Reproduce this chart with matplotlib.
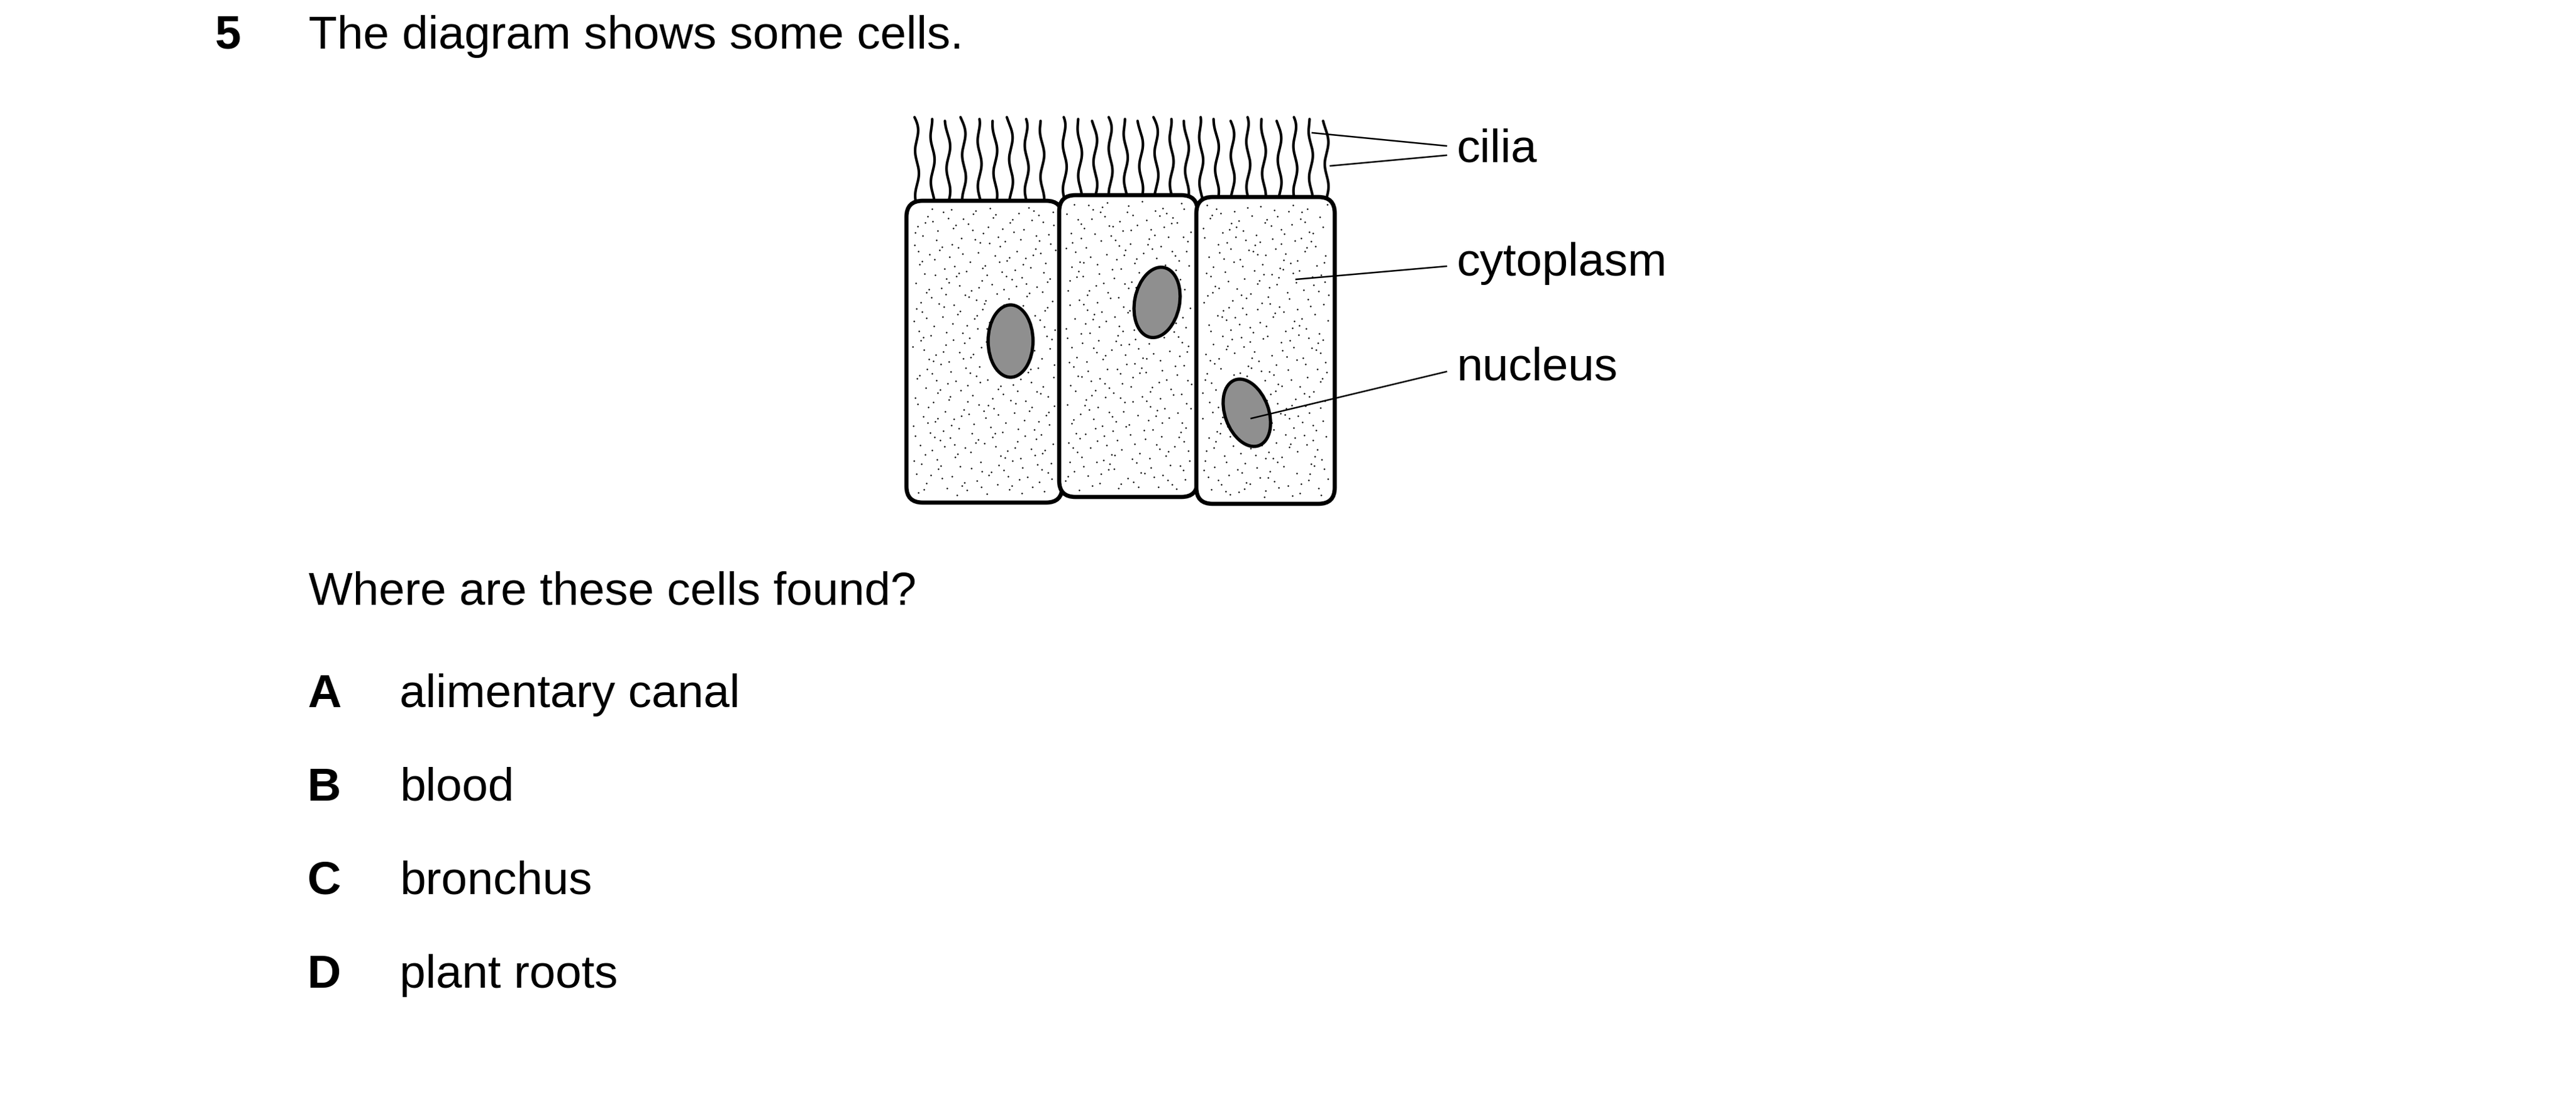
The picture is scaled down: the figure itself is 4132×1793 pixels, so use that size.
import numpy as np
import matplotlib
matplotlib.use("Agg")
import matplotlib.pyplot as plt
from matplotlib.patches import FancyBboxPatch, Ellipse

# ---- content ----
question_number = "5"
stem = "The diagram shows some cells."
question = "Where are these cells found?"
option_letters = ["A", "B", "C", "D"]
option_texts = ["alimentary canal", "blood", "bronchus", "plant roots"]
part_labels = ["cilia", "cytoplasm", "nucleus"]
cilia_per_cell = [9, 9, 9]

plt.rcParams["font.family"] = ["Liberation Sans", "DejaVu Sans"]

W, H = 4132, 1793
fig = plt.figure(figsize=(W / 100, H / 100), dpi=100)
ax = fig.add_axes([0, 0, 1, 1])
ax.set_xlim(0, W)
ax.set_ylim(H, 0)
ax.axis("off")

FS = 54  # points (~75 px)

# ---- text ----
ax.text(345, 78, question_number, fontsize=FS, fontweight="bold", va="baseline", ha="left")
ax.text(495, 78, stem, fontsize=FS, va="baseline", ha="left")
ax.text(495, 970, question, fontsize=FS, va="baseline", ha="left")
for i, (letter, txt) in enumerate(zip(option_letters, option_texts)):
    yb = 1134 + i * 150
    ax.text(493, yb, letter, fontsize=FS, fontweight="bold", va="baseline", ha="left")
    ax.text(641, yb, txt, fontsize=FS, va="baseline", ha="left")


def halton(idx, base):
    out = np.zeros(len(idx))
    f = np.ones(len(idx))
    i = idx.astype(float).copy()
    while np.any(i > 0):
        f = f / base
        out = out + f * np.mod(i, base)
        i = np.floor(i / base)
    return out


# ---- cells with stipple (deterministic texture) ----
cells = [(1454, 322, 1704, 806), (1699, 313, 1921, 797), (1919, 316, 2141, 808)]
for ci, (x0, y0, x1, y1) in enumerate(cells):
    p = FancyBboxPatch((x0, y0), x1 - x0, y1 - y0,
                       boxstyle="round,pad=0,rounding_size=26",
                       facecolor="white", edgecolor="black", linewidth=4.8, zorder=2)
    ax.add_patch(p)
    n = int((x1 - x0) * (y1 - y0) / 330)
    idx = np.arange(1, n + 1) + 500 * ci
    u = halton(idx, 2)
    v = halton(idx, 3)
    sx = x0 + 10 + u * (x1 - x0 - 20)
    sy = y0 + 10 + v * (y1 - y0 - 20)
    sc = ax.scatter(sx, sy, s=3.2, c="black", linewidths=0, zorder=2.5)
    sc.set_clip_path(p)

# ---- nuclei ----
nuclei = [(1621, 547, 72, 116, 0), (1856, 485, 72, 114, 11), (2000, 662, 70, 112, -20)]
for (cx, cy, w, h, ang) in nuclei:
    ax.add_patch(Ellipse((cx, cy), w, h, angle=ang, facecolor="#8f8f8f",
                         edgecolor="black", linewidth=3.8, zorder=3))

# ---- cilia ----
cilia_ranges = [(1471, 1672), (1708, 1904), (1927, 2128)]
top_y = 188
for ci, ((xa, xb), n) in enumerate(zip(cilia_ranges, cilia_per_cell)):
    base_y = cells[ci][1] + 4
    xs = np.linspace(xa, xb, n)
    for k, x0 in enumerate(xs):
        y = np.linspace(top_y + (k % 3) * 3, base_y, 160)
        t = (y - top_y) / (base_y - top_y)
        phase = 1.9 * k + 0.9 * ci
        x = x0 + 3.0 * np.sin(2 * np.pi * (y - top_y) / 72 + phase) - 4 * (1 - t) ** 8
        ax.plot(x, y, color="black", linewidth=3.0, solid_capstyle="round", zorder=1)

# ---- leader lines & labels ----
leaders = [
    [((2105, 213), (2320, 234)), ((2134, 266), (2320, 249))],
    [((2079, 448), (2320, 427))],
    [((2007, 671), (2320, 596))],
]
label_baselines = [259, 442, 610]
for lab, segs, yb in zip(part_labels, leaders, label_baselines):
    for (a, b) in segs:
        ax.plot([a[0], b[0]], [a[1], b[1]], color="black", linewidth=1.8, zorder=4)
    ax.text(2337, yb, lab, fontsize=FS, va="baseline", ha="left")

fig.savefig("out.png", dpi=100, facecolor="white")
